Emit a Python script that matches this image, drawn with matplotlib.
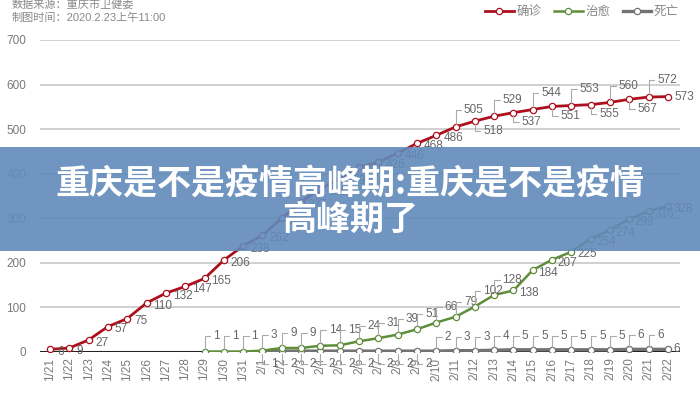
import numpy as np
import matplotlib
matplotlib.use("Agg")
import matplotlib.pyplot as plt
from matplotlib.patches import Rectangle

plt.rcParams['font.family'] = ['Liberation Sans', 'Noto Sans CJK SC', 'DejaVu Sans']

dates = ['1/21', '1/22', '1/23', '1/24', '1/25', '1/26', '1/27', '1/28', '1/29', '1/30', '1/31',
         '2/1', '2/2', '2/3', '2/4', '2/5', '2/6', '2/7', '2/8', '2/9', '2/10', '2/11',
         '2/12', '2/13', '2/14', '2/15', '2/16', '2/17', '2/18', '2/19', '2/20', '2/21', '2/22']
confirmed = [6, 9, 27, 57, 75, 110, 132, 147, 165, 206, 238, 262, 300, 337, 366, 389, 415,
             426, 446, 468, 486, 505, 518, 529, 537, 544, 551, 553, 555, 560, 567, 572, 573]
recovered = [np.nan] * 8 + [1, 1, 1, 3, 9, 9, 14, 15, 24, 31, 39, 51, 66, 79, 102, 128, 138,
                            184, 207, 225, 254, 274, 299, 316, 328]
deaths = [np.nan] * 11 + [1, 2, 2, 2, 2, 2, 2, 2, 2, 2, 3, 3, 4, 5, 5, 5, 5, 5, 5, 6, 6, 6]
yticks = [0, 100, 200, 300, 400, 500, 600, 700]

RED = '#ad101c'
GREEN = '#5e8e3a'
GRAY = '#737373'
TXT = '#666666'

fig = plt.figure(figsize=(7, 4), dpi=100)
ax = fig.add_axes([40 / 700, 48 / 400, 640 / 700, 312 / 400])
x = np.arange(len(dates))

ax.set_xlim(-10 / 19.31, 32 + 12 / 19.31)
ax.set_ylim(0, 700)
ax.set_yticks(yticks)
ax.yaxis.grid(True, color='#c8c8c8', lw=1.2)
ax.set_axisbelow(True)
for s in ax.spines.values():
    s.set_visible(False)
ax.axhline(0, color='#222222', lw=2.2, zorder=2)
ax.set_xticks(x)
ax.set_xticklabels(dates, rotation=90, fontsize=8.5, color='#7a7a7a')
ax.tick_params(axis='x', length=0, pad=4)
ax.tick_params(axis='y', length=0, pad=10, labelsize=8.5, labelcolor='#7a7a7a')

mk = dict(marker='o', markersize=4.5, markerfacecolor='white', markeredgewidth=0.9)
ax.plot(x, deaths, color=GRAY, lw=2.4, markeredgecolor=GRAY, label='死亡', zorder=3, **mk)
ax.plot(x, recovered, color=GREEN, lw=1.8, markeredgecolor=GREEN, label='治愈', zorder=4, **mk)
ax.plot(x, confirmed, color=RED, lw=2.0, markeredgecolor=RED, label='确诊', zorder=5, **mk)

bracket = dict(arrowstyle='-', color='#aaaaaa', lw=0.8,
               connectionstyle='angle,angleA=0,angleB=90,rad=0', shrinkA=0, shrinkB=2)


def lab(i, v, mode, dx=5, dy=0):
    if mode == 'r':
        ax.annotate(str(v), xy=(i, v), xytext=(dx, dy), textcoords='offset points',
                    ha='left', va='center', fontsize=8.5, color=TXT, zorder=6)
    else:
        ax.annotate(str(v), xy=(i, v), xytext=(dx, dy), textcoords='offset points',
                    ha='left', va='center', fontsize=8.5, color=TXT, zorder=6,
                    arrowprops=bracket)


for i, v in enumerate(confirmed):
    if i < 21:
        lab(i, v, 'r', 5, -2)
    elif i < 32:
        if (i - 21) % 2 == 0:
            lab(i, v, 'b', 6, 12)
        else:
            lab(i, v, 'b', 6, -7)
    else:
        lab(i, v, 'r', 5, 0)

for i, v in enumerate(recovered):
    if np.isnan(v):
        continue
    v = int(v)
    if i <= 23:
        lab(i, v, 'b', 6, 11)
    else:
        lab(i, v, 'r', 4, -2)

for i, v in enumerate(deaths):
    if np.isnan(v):
        continue
    v = int(v)
    if i <= 19:
        lab(i, v, 'b', 6, -9)
    elif i < 32:
        lab(i, v, 'b', 6, 10)
    else:
        lab(i, v, 'r', 4, 0)

# header
fig.text(12 / 700, 1 - 4 / 400, '数据来源：重庆市卫健委', fontsize=8, color='#888888', va='center', ha='left')
fig.text(12 / 700, 1 - 18 / 400, '制图时间：2020.2.23上午11:00', fontsize=8, color='#888888', va='center', ha='left')

h, l = ax.get_legend_handles_labels()
order = [2, 1, 0]
leg = fig.legend([h[k] for k in order], [l[k] for k in order], loc='center right',
                 bbox_to_anchor=(690 / 700, 1 - 12 / 400), ncol=3, frameon=False,
                 handlelength=2.3, columnspacing=1.0, handletextpad=0.2, fontsize=9)
for t in leg.get_texts():
    t.set_color('#888888')

# overlay banner
fig.patches.append(Rectangle((0, 149 / 400), 1, 104 / 400, transform=fig.transFigure,
                             facecolor='#618ab9', alpha=0.9, edgecolor='none', zorder=10))
fig.text(0.5, 1 - 183 / 400, '重庆是不是疫情高峰期:重庆是不是疫情', fontsize=24.5, color='white',
         fontweight='bold', ha='center', va='center', family=['Noto Sans CJK SC'], zorder=11)
fig.text(0.5, 1 - 219 / 400, '高峰期了', fontsize=24.5, color='white',
         fontweight='bold', ha='center', va='center', family=['Noto Sans CJK SC'], zorder=11)

fig.savefig('out.png', dpi=100)
